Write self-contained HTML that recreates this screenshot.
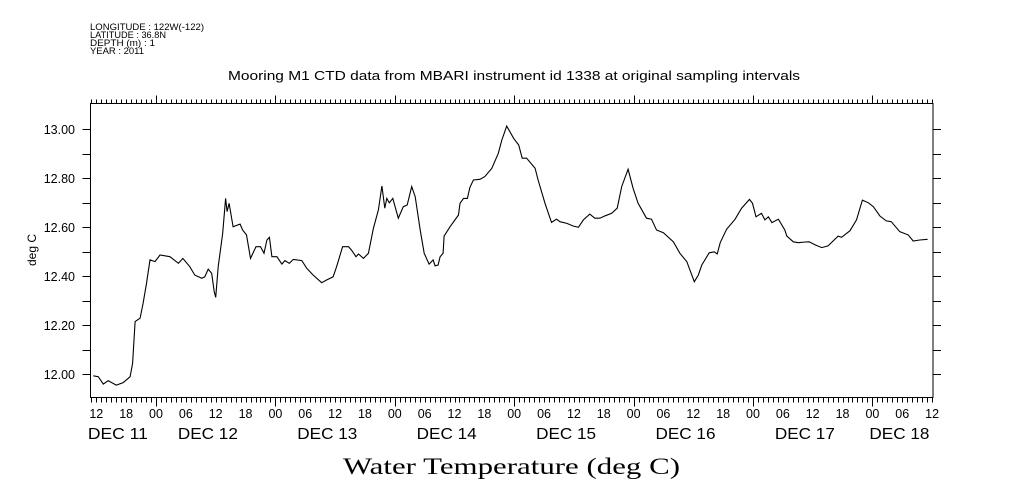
<!DOCTYPE html>
<html><head><meta charset="utf-8"><style>
html,body{margin:0;padding:0;background:#fff;}
svg{display:block;font-family:"Liberation Sans",sans-serif;}
</style></head><body>
<svg id="chart" width="1009" height="504" viewBox="0 0 1009 504" xmlns="http://www.w3.org/2000/svg">
<g font-size="9.5" fill="#000">
<text x="90" y="30" textLength="114" lengthAdjust="spacingAndGlyphs">LONGITUDE : 122W(-122)</text>
<text x="90" y="38" textLength="76" lengthAdjust="spacingAndGlyphs">LATITUDE : 36.8N</text>
<text x="90" y="46" textLength="65" lengthAdjust="spacingAndGlyphs">DEPTH (m) : 1</text>
<text x="90" y="54" textLength="54" lengthAdjust="spacingAndGlyphs">YEAR : 2011</text>
</g>
<text x="228" y="80" textLength="572" lengthAdjust="spacingAndGlyphs" font-size="12.5">Mooring M1 CTD data from MBARI instrument id 1338 at original sampling intervals</text>
<text x="343" y="474" textLength="337" lengthAdjust="spacingAndGlyphs" font-size="23" font-family="Liberation Serif,serif">Water Temperature (deg C)</text>
<text transform="translate(36,250) rotate(-90)" text-anchor="middle" font-size="12">deg C</text>
<g id="axes"></g>
<path id="series" fill="none" stroke="#000" stroke-width="1.1"/>
</svg>
<script>
const hours=[-0.6,0.4,1.4,2.4,4.0,5.4,6.8,7.3,7.8,8.8,9.4,10.1,10.8,11.8,12.8,14.8,16.5,17.4,18.8,19.8,21.2,21.8,22.5,23.2,23.7,24.0,24.5,25.4,26.0,26.3,26.7,27.5,28.9,29.4,30.2,31.0,32.1,33.0,33.7,34.3,34.8,35.3,36.3,37.3,37.9,38.8,39.6,41.3,42.3,42.8,43.6,45.3,46.3,47.6,48.3,49.5,50.7,51.3,52.2,52.7,53.7,54.7,55.7,56.7,57.4,58.0,58.4,58.9,59.6,60.7,61.7,62.5,63.4,64.1,65.1,65.9,66.9,67.7,68.1,68.7,69.1,69.7,69.9,71.1,72.8,73.1,73.8,74.6,75.1,75.8,77.1,78.1,79.5,80.8,81.5,82.5,83.9,84.9,85.6,86.5,88.2,88.8,90.2,91.5,92.5,93.2,94.6,95.9,96.9,97.9,99.2,100.2,101.2,102.3,103.6,104.7,105.6,106.9,107.9,108.9,110.6,111.6,112.6,114.0,116.0,117.3,118.7,120.2,121.0,121.7,123.2,124.2,124.8,125.4,126.7,128.4,129.7,131.3,131.9,132.6,133.7,134.4,135.1,135.8,137.1,138.4,138.8,140.1,141.1,142.5,143.3,144.5,145.8,147.1,149.1,149.8,151.5,152.8,154.0,155.2,156.2,157.5,158.8,159.8,161.5,163.2,164.2,165.5,167.1];
const temps=[11.994,11.990,11.960,11.974,11.956,11.966,11.990,12.045,12.215,12.229,12.290,12.371,12.467,12.460,12.487,12.480,12.453,12.473,12.439,12.405,12.392,12.398,12.429,12.412,12.337,12.314,12.439,12.576,12.718,12.664,12.698,12.602,12.613,12.589,12.569,12.473,12.521,12.521,12.494,12.548,12.559,12.480,12.480,12.450,12.464,12.453,12.469,12.464,12.433,12.422,12.405,12.374,12.385,12.398,12.439,12.521,12.521,12.507,12.480,12.491,12.473,12.494,12.596,12.671,12.769,12.678,12.718,12.700,12.718,12.637,12.684,12.691,12.766,12.725,12.589,12.494,12.450,12.467,12.443,12.446,12.480,12.494,12.564,12.602,12.650,12.698,12.718,12.718,12.763,12.793,12.796,12.807,12.841,12.902,12.956,13.013,12.963,12.936,12.882,12.882,12.841,12.793,12.698,12.620,12.633,12.623,12.616,12.605,12.600,12.630,12.654,12.637,12.637,12.647,12.657,12.678,12.766,12.837,12.759,12.698,12.637,12.633,12.589,12.578,12.541,12.494,12.460,12.378,12.405,12.446,12.496,12.500,12.491,12.537,12.592,12.633,12.678,12.714,12.698,12.643,12.657,12.630,12.643,12.619,12.633,12.589,12.564,12.541,12.537,12.540,12.541,12.528,12.517,12.524,12.564,12.559,12.586,12.630,12.711,12.700,12.684,12.646,12.626,12.623,12.582,12.569,12.544,12.548,12.551];
const yTickLabels=["12.00","12.20","12.40","12.60","12.80","13.00"];
const hourLabels=["12","18","00","06"];
const dayLabels=["DEC 11","DEC 12","DEC 13","DEC 14","DEC 15","DEC 16","DEC 17","DEC 18"];
const dayLabelHours=[-1.7,16.4,40.4,64.4,88.4,112.4,136.4,155.4];

const X0=96.3, PXH=4.975, L=90.5, R=933, T=103.5, B=397.5;
const xs=h=>X0+h*PXH;
const ys=v=>374.3-(v-12)*245;
const NS="http://www.w3.org/2000/svg";
const ax=document.getElementById('axes');
function mk(tag,attrs){const e=document.createElementNS(NS,tag);for(const k in attrs)e.setAttribute(k,attrs[k]);ax.appendChild(e);return e;}
let r=mk('rect',{x:L,y:T,width:R-L,height:B-T,fill:'none',stroke:'#000','stroke-width':1});


let d='';
for(let h=-1;h<=168;h++){const x=Math.round(xs(h))+0.5;const maj=(h+12)%24===0;const l=maj?9:5;
 d+=`M${x},${B}v${l}M${x},${T}v${-(maj?8:4)}`;}
for(let i=0;i<=11;i++){const v=11.9+i*0.1;if(v<11.905||v>13.1)continue;const y=Math.round(ys(v))+0.5;d+=`M${L-8},${y}h8M${R},${y}h8`;}
let tk=mk('path',{d:d,stroke:'#000','stroke-width':1,fill:'none'});


yTickLabels.forEach(s=>{const t=mk('text',{x:75,y:ys(parseFloat(s))+4.5,'text-anchor':'end','font-size':12.5});t.textContent=s;
 
 });
for(let h=0;h<=168;h+=6){const t=mk('text',{x:xs(h),y:418,'text-anchor':'middle','font-size':12.5});t.textContent=hourLabels[(h/6)%4];
 
 }
dayLabels.forEach((s,i)=>{const t=mk('text',{x:xs(dayLabelHours[i]),y:439,'font-size':15.5,textLength:60,lengthAdjust:'spacingAndGlyphs'});t.textContent=s;
 
 });
document.getElementById('series').setAttribute('d',hours.map((h,i)=>(i?'L':'M')+xs(h).toFixed(1)+','+ys(temps[i]).toFixed(1)).join(''));
</script>
</body></html>
